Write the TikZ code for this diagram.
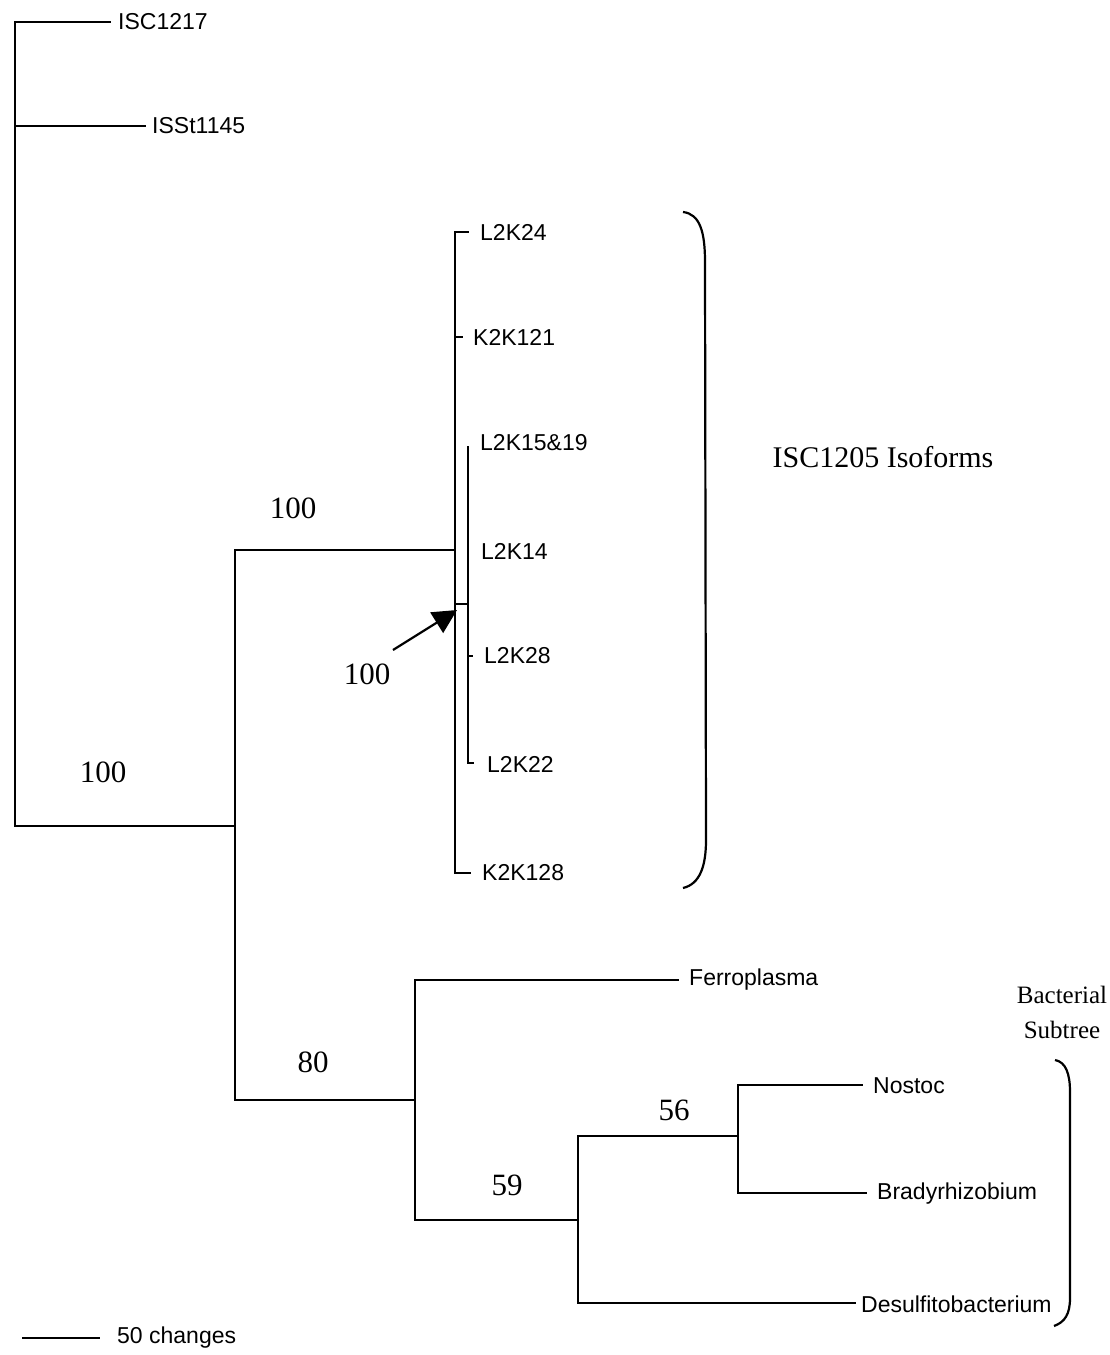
\documentclass[tikz,border=0pt]{standalone}
\usepackage{fontspec}
\setmainfont{Liberation Serif}
\newfontfamily\labelfont{Liberation Sans}
\usetikzlibrary{arrows.meta}
\begin{document}
\begin{tikzpicture}[x=1pt,y=-1pt,
  br/.style={line width=2.2pt, line cap=rect},
  tip/.style={anchor=west, inner sep=0pt, font=\labelfont\fontsize{23}{27}\selectfont},
  boot/.style={inner sep=0pt, font=\fontsize{31}{36}\selectfont},
  grp/.style={inner sep=0pt, font=\fontsize{30}{34}\selectfont},
  bgrp/.style={inner sep=0pt, font=\fontsize{25}{29}\selectfont, align=center}]
\useasboundingbox (0,0) rectangle (1110,1355);
% internal nodes
\coordinate (root) at (15,826);
\coordinate (rtop) at (15,22);
\coordinate (A) at (235,826);
\coordinate (Aup) at (235,550);
\coordinate (Adn) at (235,1100);
\coordinate (I) at (455,550);
\coordinate (Itop) at (455,232);
\coordinate (Ibot) at (455,873);
\coordinate (J) at (455,604);
\coordinate (Jc) at (468,604);
\coordinate (Jtop) at (468,447);
\coordinate (Jbot) at (468,763);
\coordinate (B) at (415,1100);
\coordinate (Btop) at (415,980);
\coordinate (Bbot) at (415,1220);
\coordinate (C) at (578,1220);
\coordinate (Ctop) at (578,1136);
\coordinate (Cbot) at (578,1303);
\coordinate (D) at (738,1136);
\coordinate (Dtop) at (738,1085);
\coordinate (Dbot) at (738,1193);
% tip ends
\coordinate (e1) at (110,22);
\coordinate (e2) at (145,126);
\coordinate (e3) at (468,232);
\coordinate (e4) at (462,337);
\coordinate (e7) at (472,656);
\coordinate (e8) at (473,763);
\coordinate (e9) at (470,873);
\coordinate (e10) at (678,980);
\coordinate (e11) at (862,1085);
\coordinate (e12) at (866,1193);
\coordinate (e13) at (855,1303);
% labels
\node[tip] (t1) at (118,22) {ISC1217};
\node[tip] (t2) at (152,126) {ISSt1145};
\node[tip] (t3) at (480,232) {L2K24};
\node[tip] (t4) at (473,337) {K2K121};
\node[tip] (t5) at (480,443) {L2K15\&19};
\node[tip] (t6) at (481,551) {L2K14};
\node[tip] (t7) at (484,656) {L2K28};
\node[tip] (t8) at (487,764) {L2K22};
\node[tip] (t9) at (482,873) {K2K128};
\node[tip] (t10) at (689,980) {Ferroplasma};
\node[tip] (t11) at (873,1086) {Nostoc};
\node[tip] (t12) at (877,1194) {Bradyrhizobium};
\node[tip] (t13) at (861,1304) {Desulfitobacterium};
% branches
\draw[br] (rtop) -- (root) -- (A);
\draw[br] (rtop) -- (e1);
\draw[br] (15,126) -- (e2);
\draw[br] (Aup) -- (Adn);
\draw[br] (Aup) -- (I);
\draw[br] (Adn) -- (B);
\draw[br] (Itop) -- (Ibot);
\draw[br] (Itop) -- (e3);
\draw[br] (455,337) -- (e4);
\draw[br] (Ibot) -- (e9);
\draw[br] (J) -- (Jc);
\draw[br] (Jtop) -- (Jbot) -- (e8);
\draw[br] (468,656) -- (e7);
\draw[br] (Btop) -- (Bbot);
\draw[br] (Btop) -- (e10);
\draw[br] (Bbot) -- (C);
\draw[br] (Ctop) -- (Cbot);
\draw[br] (Ctop) -- (D);
\draw[br] (Cbot) -- (e13);
\draw[br] (Dtop) -- (Dbot);
\draw[br] (Dtop) -- (e11);
\draw[br] (Dbot) -- (e12);
% bootstrap values
\node[boot] (b1) at (103,772) {100};
\node[boot] (b2) at (293,508) {100};
\node[boot] (b3) at (367,674) {100};
\node[boot] (b4) at (313,1062) {80};
\node[boot] (b5) at (507,1185) {59};
\node[boot] (b6) at (674,1110) {56};
% arrow
\coordinate (atip) at (457,610);
\draw[line width=2.2pt, -{Triangle[length=24pt,width=24pt]}] (393,650) -- (atip);
% brackets
\draw[line width=2.2pt] (683,212) .. controls (700,214) and (705,232) .. (705,262) -- (706,840) .. controls (706,866) and (700,884) .. (683,888);
\node[grp] (g1) at (883,457) {ISC1205 Isoforms};
\draw[line width=2.2pt] (1055,1060) .. controls (1066,1062) and (1070,1074) .. (1070,1092) -- (1070,1298) .. controls (1070,1314) and (1065,1322) .. (1054,1326);
\node[bgrp] (g2) at (1062,995) {Bacterial};
\node[bgrp] (g3) at (1062,1030) {Subtree};
% scale bar
\coordinate (s1) at (22,1338);
\coordinate (s2) at (100,1338);
\draw[line width=2pt] (s1) -- (s2);
\node[tip] (sl) at (117,1338) {50 changes};
\end{tikzpicture}
\end{document}
